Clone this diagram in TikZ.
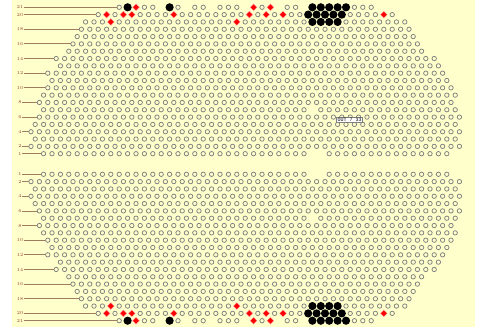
\documentclass[tikz,border=0pt]{standalone}
\usepackage{fontspec}
\setmonofont{Liberation Mono}
\definecolor{bgyellow}{RGB}{255,255,204}
\definecolor{pegring}{RGB}{128,128,128}
\definecolor{labtext}{RGB}{150,60,40}
\definecolor{labline}{RGB}{160,125,95}
\tikzset{
  peg/.style={draw=pegring,line width=0.75pt},
  lab/.style={font=\fontsize{4.6}{5}\selectfont,text=labtext,inner sep=0.4pt,anchor=center},
  labln/.style={draw=labline,line width=0.8pt},
  tip/.style={draw=gray,fill=white,line width=0.4pt,inner sep=1pt,font=\ttfamily\fontsize{5}{5.5}\selectfont}
}
\makeatletter
\newcommand\pegrow[7]{%
  \foreach \c in {#3,...,#4}{%
    \pgfmathsetmacro\xx{31+(\c+#2)*8.4}%
    \edef\tmp{,\c,}%
    \expandafter\in@\expandafter{\tmp}{,#5,}%
    \ifin@\else
      \expandafter\in@\expandafter{\tmp}{,#6,}%
      \ifin@
        \fill[red!35] (\xx,#1) +(0,-3.8) -- +(3.8,0) -- +(0,3.8) -- +(-3.8,0) -- cycle;
        \fill[red] (\xx,#1) +(0,-2.9) -- +(2.9,0) -- +(0,2.9) -- +(-2.9,0) -- cycle;
      \else
        \expandafter\in@\expandafter{\tmp}{,#7,}%
        \ifin@
          \fill[black] (\xx,#1) circle[radius=4.1pt];
        \else
          \draw[peg] (\xx,#1) circle[radius=2.2pt];
        \fi
      \fi
    \fi
  }}
\makeatother
\newcommand\prow[7]{%
  \pgfmathsetmacro\yt{7.3+(21-#1)*7.32}%
  \pgfmathsetmacro\yb{320.7-(21-#1)*7.32}%
  \pegrow{\yt}{#2}{#3}{#4}{#5}{#6}{#7}%
  \pegrow{\yb}{#2}{#3}{#4}{#5}{#6}{#7}%
}
\newcommand\prlabel[2]{% row, x of line end
  \pgfmathsetmacro\yt{7.3+(21-#1)*7.32}%
  \pgfmathsetmacro\yb{320.7-(21-#1)*7.32}%
  \node[lab] (lt#1) at (20,\yt) {#1};
  \node[lab] (lb#1) at (20,\yb) {#1};
  \coordinate (et#1) at (#2,\yt);
  \coordinate (eb#1) at (#2,\yb);
  \draw[labln] (lt#1.east) -- (et#1);
  \draw[labln] (lb#1.east) -- (eb#1);
}
\begin{document}
\begin{tikzpicture}[x=1pt,y=-1pt]
\useasboundingbox (0,0) rectangle (481,329);
\fill[white] (0,0) rectangle (481,329);
\fill[bgyellow] (12,0) rectangle (475,327);
% labels and leader lines
\prlabel{21}{117.0}
\prlabel{20}{96.0}
\prlabel{18}{79.2}
\prlabel{16}{70.8}
\prlabel{14}{54.0}
\prlabel{12}{45.6}
\prlabel{10}{45.6}
\prlabel{8}{37.2}
\prlabel{6}{37.2}
\prlabel{4}{28.8}
\prlabel{2}{28.8}
\prlabel{1}{41.4}
% rows: row, offset, first, last, gaps, reds, blacks
\prow{21}{0.5}{10}{40}{15,18,21,25,29,32}{12,26,28}{11,16,33,34,35,36,37}
\prow{20}{0}{8}{43}{}{9,11,12,17,26,28,30,42}{33,34,35,36,37}
\prow{19}{0.5}{6}{44}{}{9,24}{33,34,35,36}
\prow{18}{0}{6}{45}{}{}{}
\prow{17}{0.5}{5}{45}{}{}{}
\prow{16}{0}{5}{46}{}{}{}
\prow{15}{0.5}{4}{46}{}{}{}
\prow{14}{0}{3}{48}{}{}{}
\prow{13}{0.5}{3}{48}{}{}{}
\prow{12}{0}{2}{49}{}{}{}
\prow{11}{0.5}{2}{49}{}{}{}
\prow{10}{0}{2}{50}{}{}{}
\prow{9}{0.5}{1}{50}{}{}{}
\prow{8}{0}{1}{50}{}{}{}
\prow{7}{0.5}{1}{50}{33}{}{}
\prow{6}{0}{1}{51}{}{}{}
\prow{5}{0.5}{0}{50}{}{}{}
\prow{4}{0}{0}{51}{}{}{}
\prow{3}{0.5}{0}{50}{}{}{}
\prow{2}{0}{0}{51}{}{}{}
\prow{1}{0.5}{1}{49}{33,34}{}{}
\node[tip] (out) at (349.5,119.5) {OUT 7 33};
\end{tikzpicture}
\end{document}
